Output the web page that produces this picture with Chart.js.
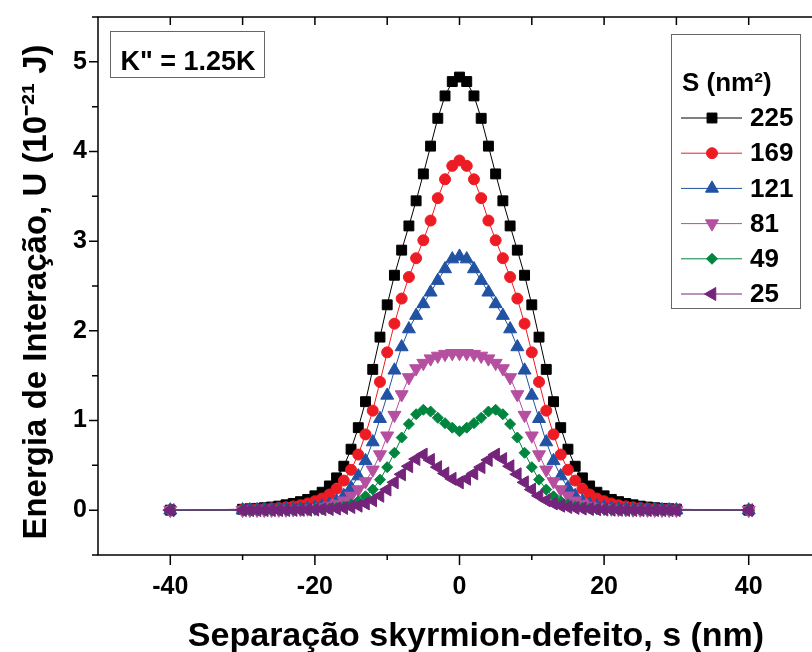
<!DOCTYPE html>
<html>
<head>
<meta charset="utf-8">
<script src="https://cdn.jsdelivr.net/npm/chart.js@4.4.1/dist/chart.umd.min.js"></script>
<style>
  html, body { margin: 0; padding: 0; background: #fff; overflow: hidden; }
  #wrap { width: 830px; height: 652px; position: relative; }
</style>
</head>
<body>
<div id="wrap"><canvas id="grafico"></canvas></div>
<script>
// separação s (nm)
const separacao = [-40,
  -30, -29, -28, -27, -26, -25, -24, -23, -22, -21,
  -20, -19, -18, -17, -16, -15, -14, -13, -12, -11,
  -10, -9, -8, -7, -6, -5, -4, -3, -2, -1,
  0,
  1, 2, 3, 4, 5, 6, 7, 8, 9, 10,
  11, 12, 13, 14, 15, 16, 17, 18, 19, 20,
  21, 22, 23, 24, 25, 26, 27, 28, 29, 30,
  40];

// U (10^-21 J) para cada área S
const u225 = [0,
  0.01, 0.015, 0.02, 0.027, 0.035, 0.045, 0.06, 0.075, 0.095, 0.12,
  0.16, 0.20, 0.27, 0.36, 0.49, 0.68, 0.92, 1.21, 1.57, 1.93,
  2.29, 2.62, 2.90, 3.17, 3.45, 3.75, 4.06, 4.37, 4.62, 4.78,
  4.83,
  4.78, 4.62, 4.37, 4.06, 3.75, 3.45, 3.17, 2.90, 2.62, 2.29,
  1.93, 1.57, 1.21, 0.92, 0.68, 0.49, 0.36, 0.27, 0.20, 0.16,
  0.12, 0.095, 0.075, 0.06, 0.045, 0.035, 0.027, 0.02, 0.015, 0.01,
  0];
const u169 = [0,
  0.005, 0.007, 0.01, 0.013, 0.018, 0.024, 0.032, 0.042, 0.055, 0.075,
  0.10, 0.13, 0.175, 0.24, 0.33, 0.45, 0.62, 0.845, 1.11, 1.43,
  1.76, 2.08, 2.36, 2.60, 2.81, 3.01, 3.23, 3.48, 3.69, 3.84,
  3.90,
  3.84, 3.69, 3.48, 3.23, 3.01, 2.81, 2.60, 2.36, 2.08, 1.76,
  1.43, 1.11, 0.845, 0.62, 0.45, 0.33, 0.24, 0.175, 0.13, 0.10,
  0.075, 0.055, 0.042, 0.032, 0.024, 0.018, 0.013, 0.01, 0.007, 0.005,
  0];
const u121 = [0,
  0.001, 0.0015, 0.002, 0.003, 0.004, 0.006, 0.008, 0.011, 0.015, 0.021,
  0.03, 0.045, 0.065, 0.10, 0.16, 0.25, 0.38, 0.55, 0.76, 1.02,
  1.28, 1.56, 1.82, 2.02, 2.17, 2.30, 2.43, 2.56, 2.69, 2.80,
  2.83,
  2.80, 2.69, 2.56, 2.43, 2.30, 2.17, 2.02, 1.82, 1.56, 1.28,
  1.02, 0.76, 0.55, 0.38, 0.25, 0.16, 0.10, 0.065, 0.045, 0.03,
  0.021, 0.015, 0.011, 0.008, 0.006, 0.004, 0.003, 0.002, 0.0015, 0.001,
  0];
const u81 = [0,
  0.001, 0.001, 0.0015, 0.002, 0.0025, 0.0035, 0.005, 0.007, 0.01, 0.015,
  0.022, 0.032, 0.047, 0.07, 0.105, 0.16, 0.23, 0.32, 0.45, 0.62,
  0.83, 1.06, 1.29, 1.48, 1.58, 1.64, 1.69, 1.72, 1.74, 1.75,
  1.75,
  1.75, 1.74, 1.72, 1.69, 1.64, 1.58, 1.48, 1.29, 1.06, 0.83,
  0.62, 0.45, 0.32, 0.23, 0.16, 0.105, 0.07, 0.047, 0.032, 0.022,
  0.015, 0.01, 0.007, 0.005, 0.0035, 0.0025, 0.002, 0.0015, 0.001, 0.001,
  0];
const u49 = [0,
  0.0005, 0.0006, 0.0008, 0.001, 0.001, 0.0015, 0.002, 0.003, 0.004, 0.006,
  0.008, 0.012, 0.018, 0.028, 0.042, 0.065, 0.10, 0.155, 0.23, 0.34,
  0.48, 0.64, 0.81, 0.96, 1.07, 1.12, 1.10, 1.03, 0.97, 0.92,
  0.88,
  0.92, 0.97, 1.03, 1.10, 1.12, 1.07, 0.96, 0.81, 0.64, 0.48,
  0.34, 0.23, 0.155, 0.10, 0.065, 0.042, 0.028, 0.018, 0.012, 0.008,
  0.006, 0.004, 0.003, 0.002, 0.0015, 0.001, 0.001, 0.0008, 0.0006, 0.0005,
  0];
const u25 = [0,
  0.0005, 0.0006, 0.0008, 0.001, 0.001, 0.0015, 0.002, 0.003, 0.004, 0.005,
  0.007, 0.01, 0.013, 0.018, 0.025, 0.035, 0.05, 0.075, 0.11, 0.16,
  0.23, 0.31, 0.40, 0.49, 0.57, 0.62, 0.56, 0.48, 0.41, 0.35,
  0.31,
  0.35, 0.41, 0.48, 0.56, 0.62, 0.57, 0.49, 0.40, 0.31, 0.23,
  0.16, 0.11, 0.075, 0.05, 0.035, 0.025, 0.018, 0.013, 0.01, 0.007,
  0.005, 0.004, 0.003, 0.002, 0.0015, 0.001, 0.001, 0.0008, 0.0006, 0.0005,
  0];

const rotulosX = [-40, -20, 0, 20, 40];
const rotulosY = [0, 1, 2, 3, 4, 5];

const fonte = '"Liberation Sans", Arial, sans-serif';

// estilo de cada série (S em nm²)
const series = [
  { label: '225', data: u225, cor: '#000000', estilo: 'rect', raio: 7, rot: 0 },
  { label: '169', data: u169, cor: '#ed1c24', estilo: 'circle', raio: 5.5, rot: 0 },
  { label: '121', data: u121, cor: '#2152a3', estilo: 'triangle', raio: 7.5, rot: 0 },
  { label: '81', data: u81, cor: '#b54fa0', estilo: 'triangle', raio: 7.5, rot: 180 },
  { label: '49', data: u49, cor: '#00853e', estilo: 'rectRot', raio: 5.5, rot: 0 },
  { label: '25', data: u25, cor: '#74247a', estilo: 'triangle', raio: 7.5, rot: -90 }
];

function desenharMarcador(ctx, s, x, y) {
  ctx.save();
  ctx.fillStyle = s.cor;
  ctx.strokeStyle = s.cor;
  ctx.lineWidth = 1;
  Chart.helpers.drawPoint(ctx, { pointStyle: s.estilo, rotation: s.rot, radius: s.raio, borderWidth: 1 }, x, y);
  ctx.restore();
}

// moldura, ticks, títulos, caixa de texto e legenda
const extras = {
  id: 'extras',
  afterDraw(chart) {
    const { ctx, chartArea: a, scales } = chart;
    const sx = scales.x, sy = scales.y;
    ctx.save();
    ctx.strokeStyle = '#000';
    ctx.lineWidth = 1.5;
    ctx.strokeRect(a.left, a.top, a.right - a.left, a.bottom - a.top);

    ctx.beginPath();
    for (let v = -40; v <= 40; v += 10) {
      const px = sx.getPixelForValue(v);
      const len = (v % 20 === 0) ? 10 : 5;
      ctx.moveTo(px, a.bottom); ctx.lineTo(px, a.bottom + len);
      ctx.moveTo(px, a.top); ctx.lineTo(px, a.top + 8);
    }
    for (let v = -0.5; v <= 5.5; v += 0.5) {
      const py = sy.getPixelForValue(v);
      const len = (Math.abs(v % 1) < 1e-9) ? 9 : 6;
      ctx.moveTo(a.left, py); ctx.lineTo(a.left - len, py);
    }
    ctx.stroke();

    ctx.fillStyle = '#000';
    ctx.font = 'bold 34px ' + fonte;
    ctx.textAlign = 'center';
    ctx.textBaseline = 'middle';
    ctx.fillText('Separação skyrmion-defeito, s (nm)', 476, 637);
    ctx.font = 'bold 33px ' + fonte;
    ctx.save();
    ctx.translate(37, 292);
    ctx.rotate(-Math.PI / 2);
    ctx.fillText('Energia de Interação, U (10⁻²¹ J)', 0, 0);
    ctx.restore();

    // caixa K"
    ctx.strokeStyle = '#666';
    ctx.lineWidth = 1;
    ctx.strokeRect(110.5, 31.5, 154, 46);
    ctx.font = 'bold 27px ' + fonte;
    ctx.fillText('K" = 1.25K', 188, 63);

    // legenda
    ctx.font = 'bold 26px ' + fonte;
    ctx.strokeRect(671.5, 34.5, 129, 274);
    ctx.textAlign = 'left';
    ctx.fillText('S (nm²)', 682, 84);
    series.forEach((s, i) => {
      const y = 118 + i * 35.2;
      ctx.strokeStyle = s.cor;
      ctx.lineWidth = 1;
      ctx.beginPath();
      ctx.moveTo(681, y); ctx.lineTo(742, y);
      ctx.stroke();
      desenharMarcador(ctx, s, 712, y);
      ctx.fillStyle = '#000';
      ctx.fillText(s.label, 750, y + 1);
    });
    ctx.restore();
  }
};

const datasets = series.map((s, i) => ({
  label: s.label,
  data: separacao.map((x, k) => ({ x: x, y: s.data[k] })),
  borderColor: s.cor,
  backgroundColor: s.cor,
  borderWidth: 1,
  pointStyle: s.estilo,
  pointRotation: s.rot,
  pointRadius: s.raio,
  pointBorderWidth: 1,
  pointBorderColor: s.cor,
  pointBackgroundColor: s.cor,
  tension: 0,
  order: series.length - i
}));

new Chart(document.getElementById('grafico'), {
  type: 'line',
  data: { datasets: datasets },
  options: {
    responsive: true,
    maintainAspectRatio: false,
    animation: false,
    layout: { padding: { left: 0, top: 17, right: 9, bottom: 0 } },
    plugins: { legend: { display: false }, tooltip: { enabled: false } },
    scales: {
      x: {
        type: 'linear',
        min: -50, max: 50,
        grid: { display: false, drawTicks: false },
        border: { display: false },
        afterBuildTicks: s => { s.ticks = rotulosX.map(v => ({ value: v })); },
        afterFit: s => { s.height = 97; s.paddingLeft = 0; s.paddingRight = 0; },
        ticks: { color: '#000', padding: 17, maxRotation: 0, font: { family: fonte, size: 25, weight: 'bold' } }
      },
      y: {
        type: 'linear',
        min: -0.5, max: 5.5,
        grid: { display: false, drawTicks: false },
        border: { display: false },
        afterBuildTicks: s => { s.ticks = rotulosY.map(v => ({ value: v })); },
        afterFit: s => { s.width = 98; s.paddingTop = 0; s.paddingBottom = 0; },
        ticks: { color: '#000', padding: 11, font: { family: fonte, size: 25, weight: 'bold' } }
      }
    }
  },
  plugins: [extras]
});
</script>
</body>
</html>
